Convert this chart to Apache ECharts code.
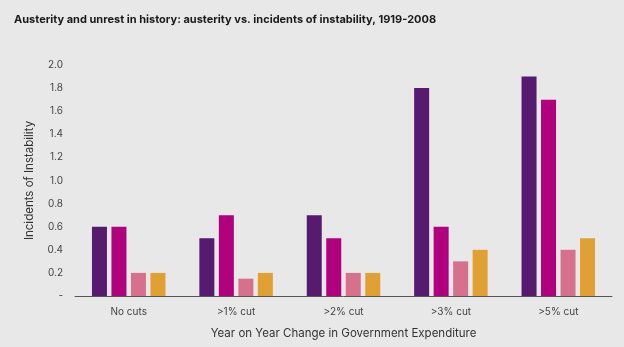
<!DOCTYPE html>
<html><head><meta charset="utf-8">
<script src="https://cdn.jsdelivr.net/npm/echarts@6/dist/echarts.min.js"></script>
<style>html,body{margin:0;padding:0;background:#e8e8e8}#c{width:624px;height:347px}</style>
</head><body><div id="c"></div>
<script>
const categories = ["No cuts", ">1% cut", ">2% cut", ">3% cut", ">5% cut"];
const seriesA = [0.6, 0.5, 0.7, 1.8, 1.9];
const seriesB = [0.6, 0.7, 0.5, 0.6, 1.7];
const seriesC = [0.2, 0.15, 0.2, 0.3, 0.4];
const seriesD = [0.2, 0.2, 0.2, 0.4, 0.5];
const colors = ["#561a6e", "#b0007e", "#d5718c", "#e0a034"];
const chart = echarts.init(document.getElementById('c'));
const mk = (d, i) => ({type: 'bar', data: d, barWidth: 15, barGap: '30%', itemStyle: {color: colors[i]}});
chart.setOption({
  backgroundColor: '#e8e8e8',
  animation: false,
  title: {text: 'Austerity and unrest in history: austerity vs. incidents of instability, 1919-2008', left: 9, top: 9,
    textStyle: {fontFamily: 'Inter', fontSize: 11, fontWeight: 'bold', color: '#1a1a1a'}},
  grid: {left: 75, right: 12, top: 65, bottom: 51},
  xAxis: {type: 'category', data: categories,
    axisLine: {lineStyle: {color: '#555', width: 1}}, axisTick: {show: false},
    axisLabel: {color: '#444', fontFamily: 'Inter', fontSize: 10, margin: 11},
    name: 'Year on Year Change in Government Expenditure', nameLocation: 'middle', nameGap: 32,
    nameTextStyle: {color: '#333', fontFamily: 'Inter', fontSize: 11.5}},
  yAxis: {type: 'value', min: 0, max: 2, interval: 0.2,
    axisLine: {show: false}, axisTick: {show: false}, splitLine: {show: false},
    axisLabel: {color: '#444', fontFamily: 'Inter', fontSize: 10, margin: 12,
      formatter: v => v === 0 ? '-' : v.toFixed(1)},
    name: 'Incidents of Instability', nameLocation: 'middle', nameGap: 39,
    nameTextStyle: {color: '#333', fontFamily: 'Inter', fontSize: 11.5}},
  series: [mk(seriesA, 0), mk(seriesB, 1), mk(seriesC, 2), mk(seriesD, 3)]
});
</script></body></html>
